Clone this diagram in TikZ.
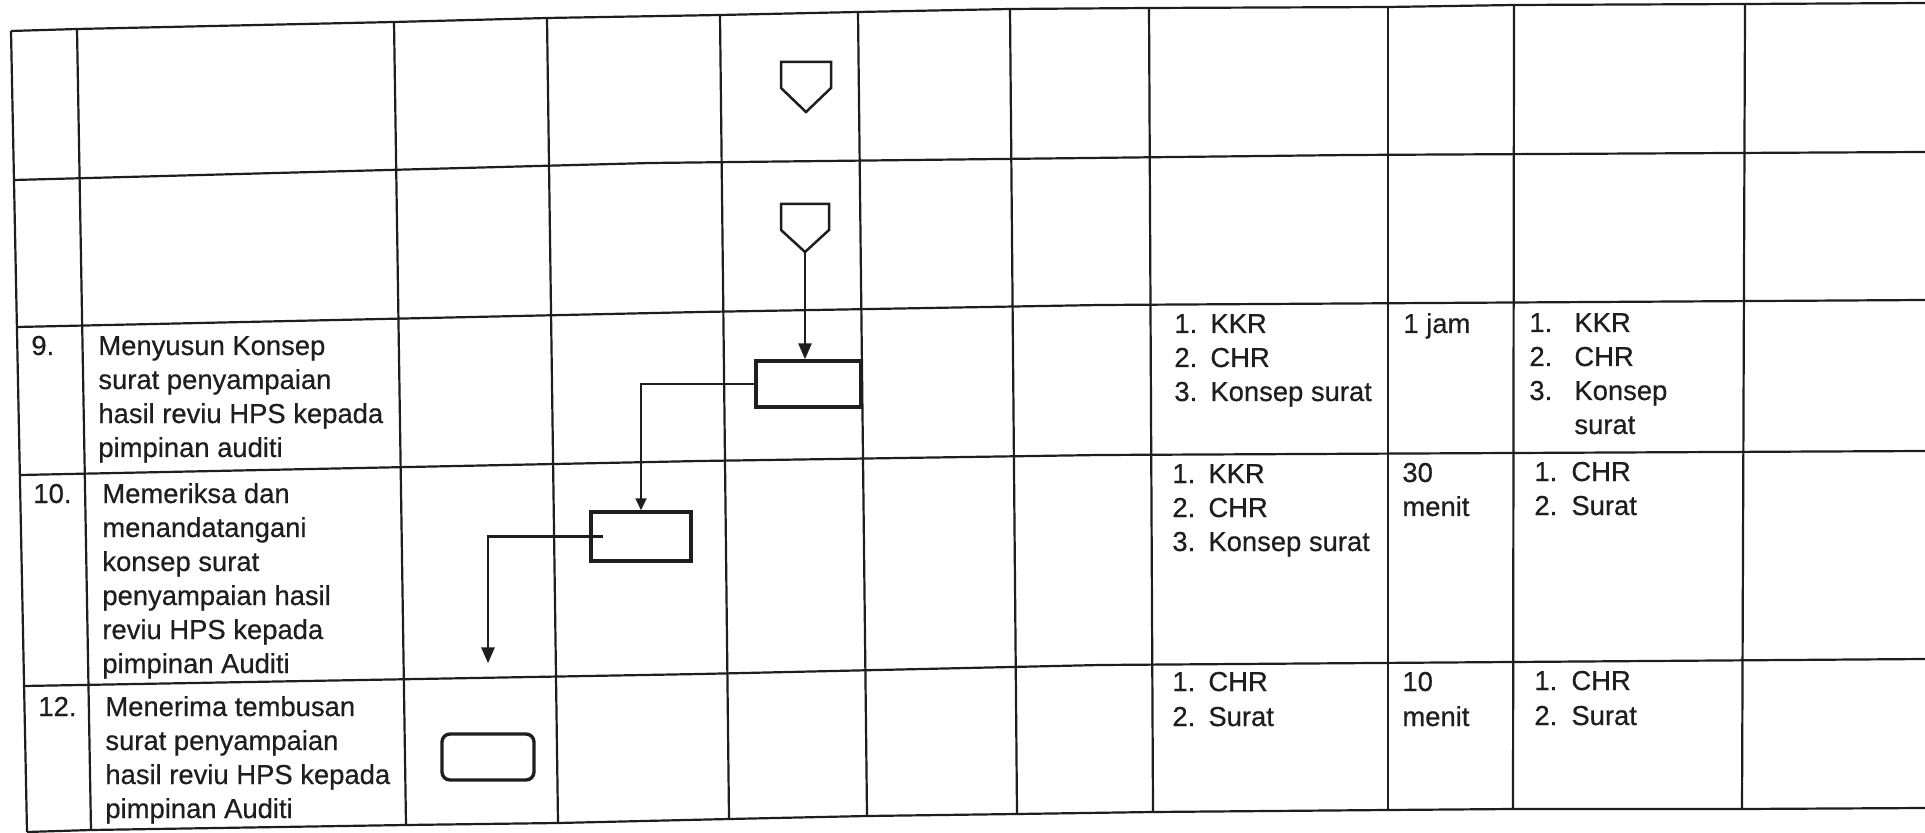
\documentclass[tikz,border=0pt]{standalone}
\usepackage{fontspec}
\setmainfont{Liberation Sans}
\newfontfamily\inkfont{Liberation Sans}[BoldFont={Liberation Sans},BoldFeatures={FakeBold=0.5}]
\usetikzlibrary{arrows.meta,calc}
\definecolor{ink}{HTML}{1E1E1E}
\newcommand\fnt{\inkfont\bfseries\fontsize{13.7}{17}\selectfont}
\begin{document}
\begin{tikzpicture}[x=0.5pt,y=-0.5pt,
  grid/.style={draw=ink,line width=1.1pt,line join=round},
  conn/.style={draw=ink,line width=1.25pt,line join=miter},
  proc/.style={draw=ink,line width=1.7pt,inner sep=0pt},
  flowthick/.style={draw=ink,line width=1.4pt,-{Triangle[length=8pt,width=6.5pt]}},
  flowthin/.style={draw=ink,line width=0.9pt,-{Triangle[length=6pt,width=5.5pt]}},
  t/.style={anchor=base west,inner sep=0pt,font=\fnt,text=ink}]
\useasboundingbox (0,0) rectangle (1925,833);
\fill[white] (0,0) rectangle (1925,833);
% horizontal rules
\draw[grid] (11,31) -- (77,29) -- (394,22) -- (547,18) -- (720,15) -- (858,12) -- (1010,9) -- (1149,8) -- (1388,7) -- (1514,5) -- (1745,4) -- (1925,3);
\draw[grid] (14,180) -- (650,163) -- (1350,155) -- (1925,152);
\draw[grid] (17,327) -- (700,312) -- (1100,305) -- (1925,300);
\draw[grid] (20,475) -- (700,461) -- (1100,455) -- (1925,451);
\draw[grid] (24,686) -- (700,674) -- (1100,665) -- (1925,659);
\draw[grid] (27,832) -- (91,830) -- (406,825) -- (558,823) -- (729,819) -- (867,816) -- (1017,814) -- (1153,812) -- (1388,810) -- (1513,809) -- (1742,809) -- (1925,808);
% vertical rules
\foreach \a/\b/\c/\d in {11/31/27/832, 77/29/91/830, 394/22/406/825, 547/18/558/823, 720/15/729/819, 858/12/867/816, 1010/9/1017/814, 1149/8/1153/812, 1388/7/1388/810, 1514/5/1513/809, 1745/4/1742/809}
  \draw[grid] (\a,\b) -- (\c,\d);
% off-page connectors
\draw[conn] (781,62) -- (831,62) -- (831,88) -- (806,112) coordinate (k1p) -- (781,88) -- cycle;
\draw[conn] (781,204) -- (829,204) -- (829,230) -- (805,252) coordinate (k2p) -- (781,230) -- cycle;
% process boxes
\node[proc,minimum width=52.5pt,minimum height=23pt] (b1) at (808.5,384) {};
\node[proc,minimum width=50pt,minimum height=24.5pt] (b2) at (641,536.5) {};
\node[proc,rounded corners=4pt,minimum width=46pt,minimum height=23pt] (b3) at (488,757) {};
\coordinate (e3) at ($(b3.north)+(0,-69)$);
% flow
\draw[flowthick] (k2p) -- (k2p |- b1.north);
\draw[flowthin] (b1.west) -| (b2.north);
\draw[flowthick] ($(b2.west)+(14,0)$) -| (e3);
% row 9
\node[t] (n9) at (31,355) {9.};
\node[t] (d9a) at (98,355) {Menyusun Konsep};
\node[t] (d9b) at (98,389) {surat penyampaian};
\node[t] (d9c) at (98,423) {hasil reviu HPS kepada};
\node[t] (d9d) at (98,457) {pimpinan auditi};
% row 10
\node[t] (n10) at (33,503) {10.};
\node[t] (d10a) at (102,503) {Memeriksa dan};
\node[t] (d10b) at (102,537) {menandatangani};
\node[t] (d10c) at (102,571) {konsep surat};
\node[t] (d10d) at (102,605) {penyampaian hasil};
\node[t] (d10e) at (102,639) {reviu HPS kepada};
\node[t] (d10f) at (102,673) {pimpinan Auditi};
% row 12
\node[t] (n12) at (38,716) {12.};
\node[t] (d12a) at (105,716) {Menerima tembusan};
\node[t] (d12b) at (105,750) {surat penyampaian};
\node[t] (d12c) at (105,784) {hasil reviu HPS kepada};
\node[t] (d12d) at (105,818) {pimpinan Auditi};
% row 9 right
\node[t] (r9a1) at (1174,333) {1.}; \node[t] (r9a2) at (1210,333) {KKR};
\node[t] (r9b1) at (1174,367) {2.}; \node[t] (r9b2) at (1210,367) {CHR};
\node[t] (r9c1) at (1174,401) {3.}; \node[t] (r9c2) at (1210,401) {Konsep surat};
\node[t] (w9) at (1403,333) {1 jam};
\node[t] (o9a1) at (1529,332) {1.}; \node[t] (o9a2) at (1574,332) {KKR};
\node[t] (o9b1) at (1529,366) {2.}; \node[t] (o9b2) at (1574,366) {CHR};
\node[t] (o9c1) at (1529,400) {3.}; \node[t] (o9c2) at (1574,400) {Konsep};
\node[t] (o9d2) at (1574,434) {surat};
% row 10 right
\node[t] (r10a1) at (1172,483) {1.}; \node[t] (r10a2) at (1208,483) {KKR};
\node[t] (r10b1) at (1172,517) {2.}; \node[t] (r10b2) at (1208,517) {CHR};
\node[t] (r10c1) at (1172,551) {3.}; \node[t] (r10c2) at (1208,551) {Konsep surat};
\node[t] (w10a) at (1402,482) {30};
\node[t] (w10b) at (1402,516) {menit};
\node[t] (o10a1) at (1534,481) {1.}; \node[t] (o10a2) at (1571,481) {CHR};
\node[t] (o10b1) at (1534,515) {2.}; \node[t] (o10b2) at (1571,515) {Surat};
% row 12 right
\node[t] (r12a1) at (1172,691) {1.}; \node[t] (r12a2) at (1208,691) {CHR};
\node[t] (r12b1) at (1172,726) {2.}; \node[t] (r12b2) at (1208,726) {Surat};
\node[t] (w12a) at (1402,691) {10};
\node[t] (w12b) at (1402,726) {menit};
\node[t] (o12a1) at (1534,690) {1.}; \node[t] (o12a2) at (1571,690) {CHR};
\node[t] (o12b1) at (1534,725) {2.}; \node[t] (o12b2) at (1571,725) {Surat};
\end{tikzpicture}
\end{document}
